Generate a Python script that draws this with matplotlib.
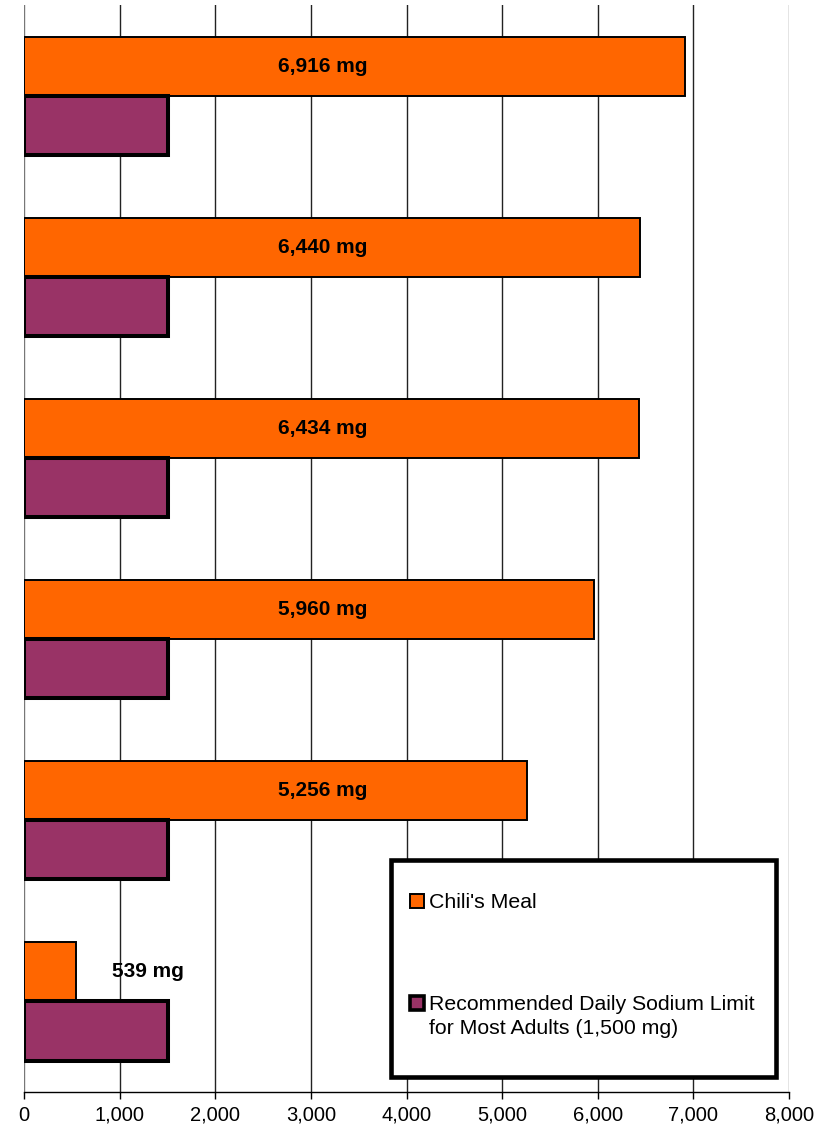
import numpy as np
import matplotlib.pyplot as plt
from matplotlib.patches import Rectangle

plt.rcParams['font.family'] = ['Liberation Sans', 'DejaVu Sans']

########## Data ##########
meal_sodium = [6916, 6440, 6434, 5960, 5256, 539]
daily_limit = [1500, 1500, 1500, 1500, 1500, 1500]
xticks = np.arange(0, 8001, 1000)
legend_labels = ["Chili's Meal",
                 "Recommended Daily Sodium Limit\nfor Most Adults (1,500 mg)"]

meal_color = '#FF6600'
limit_color = '#993366'
bar_h = 0.326

fig = plt.figure(figsize=(8.31, 11.34), dpi=100)
ax = fig.add_axes([0.029, 0.037, 0.9205, 0.9586])

y = np.arange(len(meal_sodium))

ax.barh(y - bar_h/2, meal_sodium, height=bar_h, color=meal_color,
        edgecolor='black', linewidth=1.4, zorder=3)
ax.barh(y + bar_h/2, daily_limit, height=bar_h, color=limit_color,
        edgecolor='black', linewidth=2.9, zorder=3)

# value labels, bold, sitting in the middle of the plot for the long bars
for i, v in enumerate(meal_sodium):
    lx = 3120 if v > 2000 else 1300
    ax.text(lx, i - bar_h/2, '{:,} mg'.format(v), ha='center', va='center',
            fontsize=15, fontweight='bold', zorder=4)

ax.set_xlim(0, 8000)
ax.set_ylim(len(meal_sodium) - 0.5, -0.5)
ax.set_xticks(xticks)
ax.set_xticklabels(['{:,}'.format(t) for t in xticks], fontsize=14.5)
ax.set_yticks([])
ax.tick_params(axis='x', direction='out', length=5, width=1, pad=5)

for s in ['top', 'right', 'left']:
    ax.spines[s].set_visible(False)
ax.spines['bottom'].set_linewidth(1)

for t in xticks:
    edge = t == 0 or t == 8000
    ax.axvline(t, color='#777777' if edge else '#222222', linewidth=1, zorder=1)

############ Legend ############
box = Rectangle((0.48, 0.0138), 0.503, 0.1996, transform=ax.transAxes,
                facecolor='white', edgecolor='black', linewidth=3.3, zorder=5)
ax.add_patch(box)

hw, hh = 14/765, 14/1087
key_y = [0.1756, 0.0820]  # centres of the two legend keys (axes fraction)
key_colors = [meal_color, limit_color]
key_lw = [1.4, 2.6]
for ky, kc, lw, lab in zip(key_y, key_colors, key_lw, legend_labels):
    ax.add_patch(Rectangle((0.5046, ky - hh/2), hw, hh, transform=ax.transAxes,
                           facecolor=kc, edgecolor='black', linewidth=lw, zorder=6))
    ax.text(0.5295, ky + 0.0072, lab, transform=ax.transAxes, ha='left', va='top',
            fontsize=15.3, linespacing=1.3, zorder=6)

fig.savefig('out.png', dpi=100)
